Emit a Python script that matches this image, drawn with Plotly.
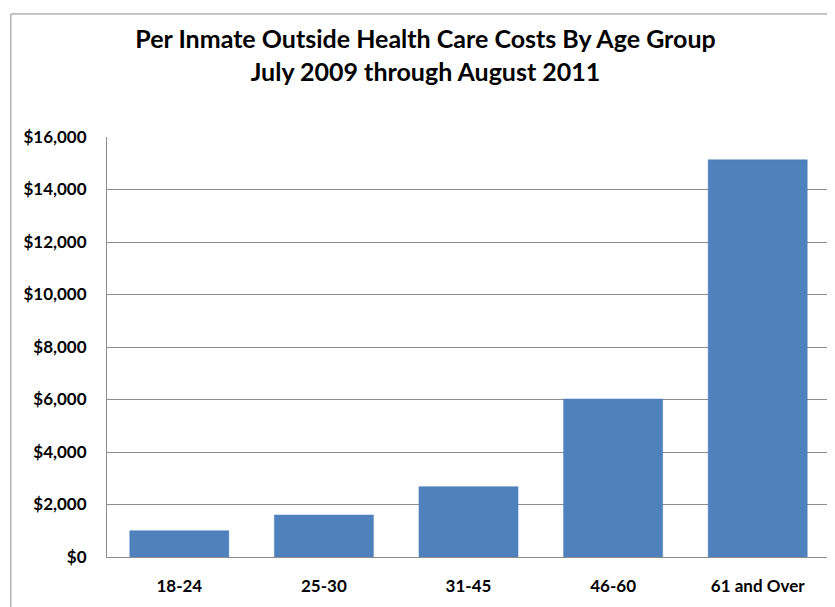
import plotly.graph_objects as go

age_groups = ["18-24", "25-30", "31-45", "46-60", "61 and Over"]
costs = [1000, 1600, 2680, 6020, 15130]
tick_vals = [0, 2000, 4000, 6000, 8000, 10000, 12000, 14000, 16000]
tick_text = ["$0", "$2,000", "$4,000", "$6,000", "$8,000",
             "$10,000", "$12,000", "$14,000", "$16,000"]

FONT = "Lato, Calibri, Arial, sans-serif"

# page body has an 8px margin, so the figure sits at (8, 8)
fig = go.Figure(go.Bar(
    x=age_groups,
    y=costs,
    marker=dict(color="#4F81BD", line=dict(color="#4A7EBB", width=0.5)),
    hoverinfo="x+y",
))

fig.update_layout(
    width=835,
    height=607,
    paper_bgcolor="white",
    plot_bgcolor="white",
    font=dict(family=FONT, size=17, color="black"),
    title=dict(
        text="<b>Per Inmate Outside Health Care Costs By Age Group<br>July 2009 through August 2011</b>",
        x=0.5, xanchor="center", y=0.934, yanchor="top",
        font=dict(size=25, family=FONT, color="black"),
    ),
    margin=dict(l=99, r=13, t=129, b=58),
    bargap=0.315,
    showlegend=False,
    # outer chart frame
    shapes=[dict(
        type="rect", xref="paper", yref="paper",
        x0=-0.133, x1=1.02, y0=-0.16, y1=1.293,
        line=dict(color="#8C8C8C", width=1),
    )],
)

fig.update_xaxes(
    showline=True, linecolor="#8C8C8C", linewidth=1,
    ticks="", ticklabelstandoff=14,
    tickfont=dict(family=FONT, size=17, weight="bold"),
)
fig.update_yaxes(
    range=[0, 16000],
    tickvals=tick_vals, ticktext=tick_text,
    showline=True, linecolor="#8C8C8C", linewidth=1,
    showgrid=True, gridcolor="#8C8C8C", gridwidth=1,
    zeroline=False, ticks="", ticklabelstandoff=16,
    tickfont=dict(family=FONT, size=17, weight="bold"),
)

fig.write_html("out.html")
